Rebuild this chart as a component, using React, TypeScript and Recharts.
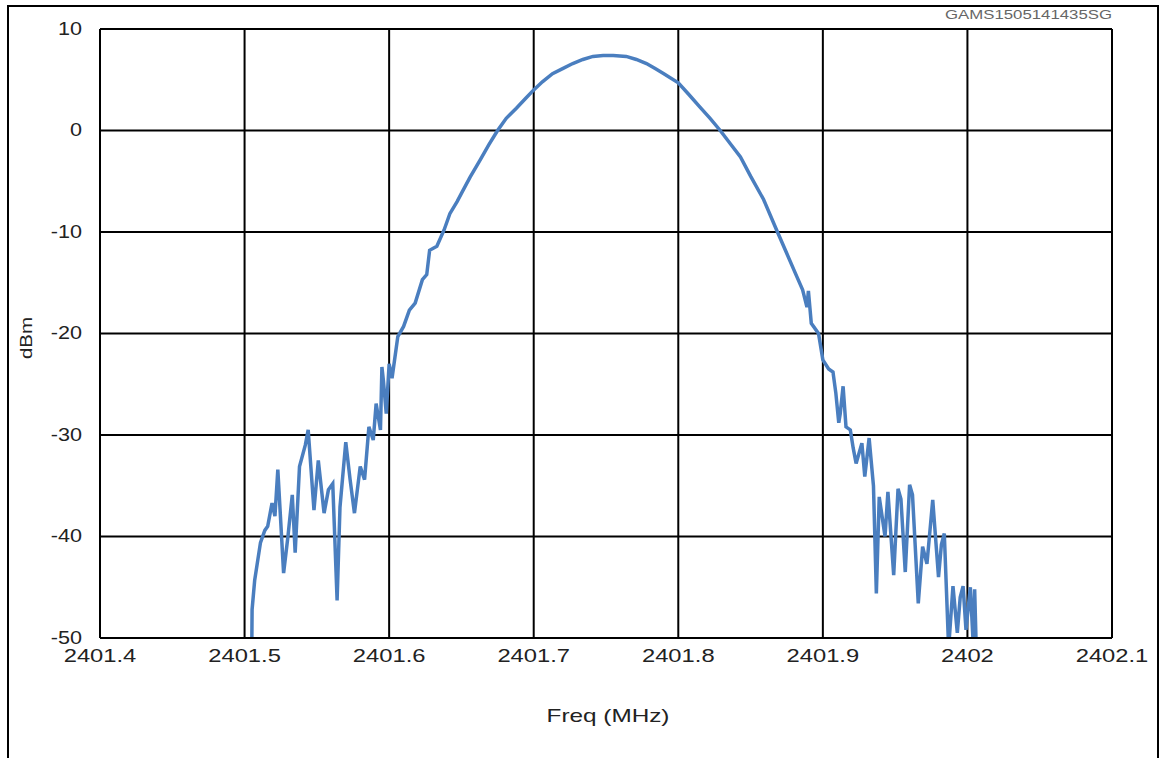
import { LineChart, Line, XAxis, YAxis, CartesianGrid } from "recharts";

// spectrum trace, [freq MHz, level dBm]
const leftSkirt: Array<[number, number]> = [
  [2401.505, -51], [2401.5052, -47.2], [2401.507, -44.3], [2401.511, -40.6],
  [2401.514, -39.4], [2401.516, -39.0], [2401.519, -36.7], [2401.521, -38.0],
  [2401.523, -33.4], [2401.527, -43.6], [2401.53, -40.0], [2401.533, -35.9],
  [2401.535, -41.6], [2401.538, -33.1], [2401.542, -31.0], [2401.544, -29.5],
  [2401.548, -37.4], [2401.551, -32.5], [2401.555, -37.7], [2401.558, -35.4],
  [2401.561, -34.8], [2401.564, -46.3], [2401.566, -37.1], [2401.57, -30.7],
  [2401.573, -34.4], [2401.576, -37.7], [2401.58, -33.1], [2401.583, -34.4],
  [2401.586, -29.2], [2401.589, -30.5], [2401.591, -26.9], [2401.594, -29.5],
  [2401.595, -23.3], [2401.596, -24.6], [2401.598, -27.9], [2401.6, -23.0],
  [2401.602, -24.4],
];

const mainLobe: Array<[number, number]> = [
  [2401.606, -20.3], [2401.61, -19.3], [2401.614, -17.7], [2401.618, -17.0],
  [2401.623, -14.7], [2401.626, -14.2], [2401.628, -11.8], [2401.633, -11.4],
  [2401.638, -9.8], [2401.642, -8.2], [2401.647, -7.0], [2401.65, -6.2],
  [2401.656, -4.6], [2401.663, -2.9], [2401.669, -1.4], [2401.675, 0.0],
  [2401.681, 1.2], [2401.688, 2.2], [2401.694, 3.1], [2401.7, 4.0],
  [2401.706, 4.8], [2401.713, 5.6], [2401.72, 6.1], [2401.727, 6.6],
  [2401.734, 7.0], [2401.741, 7.3], [2401.748, 7.4], [2401.755, 7.4],
  [2401.764, 7.3], [2401.771, 7.0], [2401.778, 6.6], [2401.784, 6.1],
  [2401.79, 5.6], [2401.8, 4.7], [2401.807, 3.6], [2401.815, 2.3],
  [2401.822, 1.2], [2401.829, 0.0], [2401.836, -1.3], [2401.843, -2.6],
  [2401.85, -4.5], [2401.859, -6.8], [2401.868, -9.8], [2401.875, -12.1],
  [2401.882, -14.4], [2401.886, -15.7], [2401.889, -17.4], [2401.89, -15.8],
  [2401.892, -19.0], [2401.897, -20.0],
];

const rightSkirt: Array<[number, number]> = [
  [2401.9, -22.6], [2401.904, -23.5], [2401.907, -23.8], [2401.909, -25.9],
  [2401.911, -28.8], [2401.912, -27.9], [2401.914, -25.2], [2401.916, -29.2],
  [2401.919, -29.5], [2401.921, -31.3], [2401.923, -32.8], [2401.927, -30.8],
  [2401.929, -34.1], [2401.932, -30.3], [2401.935, -35.0], [2401.937, -45.6],
  [2401.939, -36.1], [2401.943, -40.0], [2401.945, -35.6], [2401.949, -43.8],
  [2401.952, -35.3], [2401.954, -36.3], [2401.957, -43.5], [2401.96, -34.9],
  [2401.962, -35.9], [2401.966, -46.6], [2401.969, -41.0], [2401.972, -42.7],
  [2401.976, -36.4], [2401.98, -44.0], [2401.982, -40.8], [2401.984, -39.7],
  [2401.987, -51.0], [2401.99, -44.9], [2401.993, -49.5], [2401.995, -46.0],
  [2401.997, -44.9], [2401.999, -49.2], [2402.002, -45.0], [2402.004, -50.6],
  [2402.005, -45.2], [2402.006, -50.5],
];

const freqTicks = [2401.4, 2401.5, 2401.6, 2401.7, 2401.8, 2401.9, 2402, 2402.1];
const levelTicks = [-50, -40, -30, -20, -10, 0, 10];

const data = [...leftSkirt, ...mainLobe, ...rightSkirt].map(([f, v]) => ({ f, v }));

const FONT = "'Liberation Sans', Arial, sans-serif";

function XTick({ x, y, payload }: any) {
  return (
    <text
      x={x}
      y={y}
      dy={18}
      textAnchor="middle"
      fontSize={19}
      fontFamily={FONT}
      fill="#222"
      transform={`translate(${x} 0) scale(1.25 1) translate(${-x} 0)`}
    >
      {payload.value}
    </text>
  );
}

function YTick({ x, y, payload }: any) {
  return (
    <text
      x={x}
      y={y}
      dy={6}
      textAnchor="end"
      fontSize={18}
      fontFamily={FONT}
      fill="#222"
      transform={`translate(${x} 0) scale(1.2 1) translate(${-x} 0)`}
    >
      {payload.value}
    </text>
  );
}

export default function App() {
  return (
    <div style={{ position: "absolute", left: 0, top: 0, width: 1166, height: 758, overflow: "hidden", background: "#fff" }}>
      <div
        style={{
          position: "absolute",
          left: 7,
          top: 5,
          width: 1148,
          height: 770,
          border: "2px solid #000",
        }}
      />
      <svg style={{ position: "absolute", left: 0, top: 0 }} width={1166} height={30}>
        <text
          x={1112}
          y={19}
          textAnchor="end"
          fontSize={12}
          fontFamily={FONT}
          fill="#666"
          textLength={167}
          lengthAdjust="spacingAndGlyphs"
        >
          GAMS1505141435SG
        </text>
      </svg>
      <div style={{ position: "absolute", left: 0, top: 0 }}>
        <LineChart
          width={1166}
          height={758}
          data={data}
          margin={{ top: 29, right: 54, bottom: 60, left: 40 }}
        >
          <CartesianGrid stroke="#000" strokeWidth={2} />
          <XAxis
            dataKey="f"
            type="number"
            domain={[2401.4, 2402.1]}
            ticks={freqTicks}
            allowDataOverflow
            height={60}
            tickLine={false}
            axisLine={{ stroke: "#000", strokeWidth: 2 }}
            tick={<XTick />}
            tickMargin={0}
          />
          <YAxis
            type="number"
            domain={[-50, 10]}
            ticks={levelTicks}
            allowDataOverflow
            width={60}
            tickLine={false}
            axisLine={{ stroke: "#000", strokeWidth: 2 }}
            tick={<YTick />}
            tickMargin={12}
          />
          <Line
            type="linear"
            dataKey="v"
            stroke="#4a7ebf"
            strokeWidth={3.5}
            dot={false}
            isAnimationActive={false}
          />
        </LineChart>
      </div>
      <div
        style={{
          position: "absolute",
          left: 27,
          top: 338,
          transform: "translate(-50%, -50%) rotate(-90deg) scale(1.2, 1)",
          fontFamily: FONT,
          fontSize: 17,
          color: "#222",
          whiteSpace: "nowrap",
        }}
      >
        dBm
      </div>
      <div
        style={{
          position: "absolute",
          left: 608,
          top: 716,
          transform: "translate(-50%, -50%) scale(1.28, 1)",
          fontFamily: FONT,
          fontSize: 19,
          color: "#222",
          whiteSpace: "nowrap",
        }}
      >
        Freq (MHz)
      </div>
    </div>
  );
}
